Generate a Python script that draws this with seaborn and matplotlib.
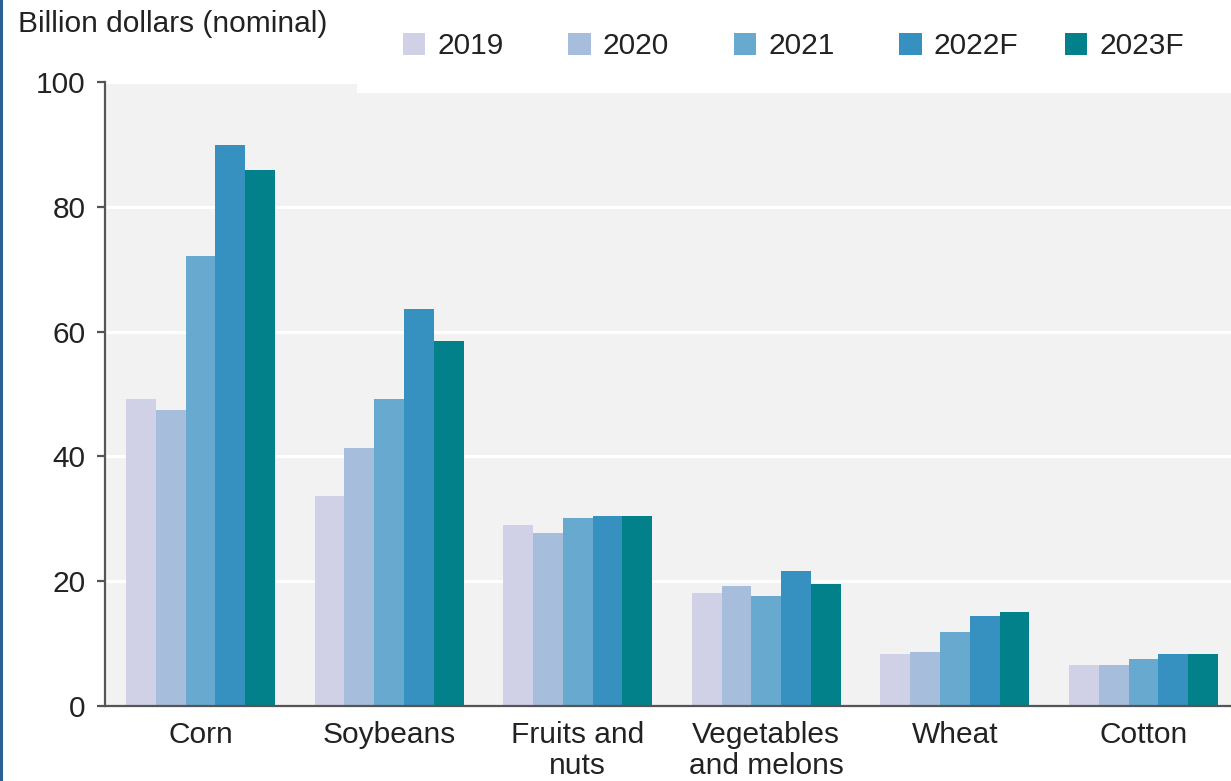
import matplotlib
matplotlib.use("Agg")
import matplotlib.pyplot as plt
from matplotlib.patches import Patch, Rectangle
import seaborn as sns
import pandas as pd

categories = ["Corn", "Soybeans", "Fruits and\nnuts", "Vegetables\nand melons", "Wheat", "Cotton"]
years = ["2019", "2020", "2021", "2022F", "2023F"]
v2019 = [49.2, 33.7, 29.0, 18.1, 8.3, 6.6]
v2020 = [47.4, 41.3, 27.7, 19.2, 8.7, 6.6]
v2021 = [72.1, 49.2, 30.2, 17.6, 11.9, 7.5]
v2022 = [89.9, 63.6, 30.5, 21.6, 14.4, 8.3]
v2023 = [85.9, 58.5, 30.5, 19.6, 15.1, 8.3]
colors = ["#d0d1e6", "#a6bddb", "#67a9cf", "#3690c0", "#02818a"]

series = [v2019, v2020, v2021, v2022, v2023]
rows = []
for y, vals in zip(years, series):
    for c, v in zip(categories, vals):
        rows.append({"category": c, "year": y, "value": v})
df = pd.DataFrame(rows)

sns.set_style("white")
plt.rcParams["font.family"] = ["Liberation Sans", "DejaVu Sans"]
FS = 21.5
TXT = "#222222"

W, H = 1231, 781
fig = plt.figure(figsize=(W / 100, H / 100), dpi=100)
fig.patch.set_facecolor("white")
ax = fig.add_axes([105 / W, 1 - 706 / H, 1 - 105 / W, (706 - 82) / H])

sns.barplot(data=df, x="category", y="value", hue="year", order=categories,
            hue_order=years, palette=colors, width=0.79, saturation=1,
            gap=0, legend=False, ax=ax, linewidth=0)

ax.set_facecolor("#f2f2f2")
ax.set_ylim(0, 100)
ax.set_xlim(-0.506, 5.464)
ax.set_yticks([0, 20, 40, 60, 80, 100])
ax.yaxis.grid(True, color="white", linewidth=2.2)
ax.xaxis.grid(False)
ax.set_axisbelow(True)
for s in ["top", "right"]:
    ax.spines[s].set_visible(False)
for s in ["left", "bottom"]:
    ax.spines[s].set_color("#555555")
    ax.spines[s].set_linewidth(1.6)
ax.tick_params(axis="y", length=6, width=1.6, color="#555555", pad=8,
               labelsize=FS, labelcolor=TXT, left=True)
ax.tick_params(axis="x", length=0, pad=11, labelsize=FS, labelcolor=TXT)
for lab in ax.get_xticklabels():
    lab.set_linespacing(1.12)
ax.set_xlabel("")
ax.set_ylabel("")

fig.text(18 / W, 1 - 24 / H, "Billion dollars (nominal)", fontsize=FS,
         color=TXT, va="center", ha="left")

# white legend panel overlapping plot top
fig.add_artist(Rectangle((357 / W, 1 - 93 / H), 1, 93 / H,
                         transform=fig.transFigure, facecolor="white",
                         edgecolor="none", zorder=4))
# dark blue left frame strip
fig.add_artist(Rectangle((0, 0), 3 / W, 1, transform=fig.transFigure,
                         facecolor="#2c5f93", edgecolor="none", zorder=4))

handles = [Patch(facecolor=c, edgecolor="none") for c in colors]
leg_kw = dict(loc="center left", frameon=False, fontsize=FS,
              handlelength=0.75, handleheight=0.75, handletextpad=0.4,
              columnspacing=2.17, borderpad=0, borderaxespad=0)
leg1 = fig.legend(handles[:4], years[:4], ncol=4,
                  bbox_to_anchor=(403 / W, 1 - 46 / H), **leg_kw)
leg2 = fig.legend(handles[4:], years[4:], ncol=1,
                  bbox_to_anchor=(1065 / W, 1 - 46 / H), **leg_kw)
for leg in (leg1, leg2):
    for t in leg.get_texts():
        t.set_color(TXT)
    leg.set_zorder(6)

fig.savefig("out.png", dpi=100)
